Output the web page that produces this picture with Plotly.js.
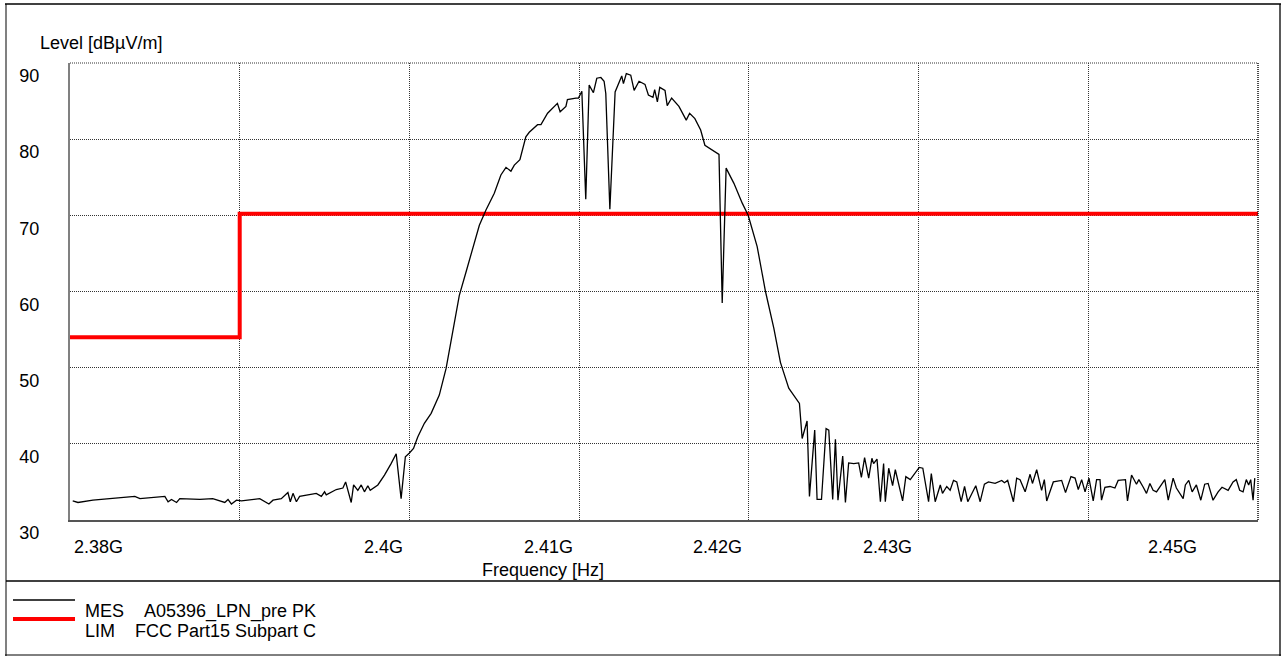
<!DOCTYPE html>
<html><head><meta charset="utf-8">
<script src="https://cdn.plot.ly/plotly-3.0.1.min.js"></script>
<style>html,body{margin:0;padding:0;background:#fff;overflow:hidden;} #chart{width:1286px;height:657px;}</style>
</head><body><div id="chart"></div>
<script>
// ---- data (frequency in MHz, level in dBµV/m) ----
const mesFreqMHz = [
  2380.16,2380.47,2381.35,2382.53,2383.82,2384.12,2385.29,2385.59,2385.78,2385.98,
  2386.28,2386.47,2387.65,2388.41,2389.12,2389.31,2389.51,2389.81,2390.10,2391.18,
  2391.72,2391.96,2392.45,2392.84,2392.98,2393.14,2393.34,2393.53,2394.51,2394.81,
  2395.00,2395.10,2395.69,2396.08,2396.24,2396.57,2396.71,2396.96,
  2397.16,2397.35,2397.55,2397.69,2398.14,2398.53,2398.92,2399.22,2399.51,2399.76,
  2400.00,2400.24,2400.49,2400.88,2401.28,2401.76,2402.16,2402.55,2402.94,2403.34,
  2403.72,2404.12,2404.51,2405.00,2405.39,2405.69,2405.98,2406.18,2406.51,2406.86,
  2407.06,2407.55,2407.75,2408.14,2408.72,2408.88,2409.22,2409.31,2409.81,2409.96,
  2410.16,2410.39,2410.59,2410.84,2411.04,2411.28,2411.47,2411.57,2411.81,2412.12,
  2412.51,2412.61,2412.78,2413.04,2413.24,2413.53,2413.88,2414.08,2414.35,2414.45,
  2414.61,2414.75,2415.06,2415.19,2415.45,2415.88,2416.31,2416.51,2416.82,2417.16,
  2417.41,2418.24,2418.43,2418.66,2419.12,2419.61,2419.96,2420.49,2420.98,2421.47,
  2421.86,2422.35,2422.98,2423.14,2423.43,2423.57,2423.88,2424.02,2424.28,2424.55,
  2424.71,2424.94,2425.10,2425.25,2425.53,2425.69,2425.88,2426.18,2426.47,2426.63,
  2426.82,2427.06,2427.25,2427.35,2427.55,2427.75,2427.94,2428.04,
  2428.24,2428.47,2428.63,2429.06,2429.25,2429.51,2430.04,2430.25,2430.59,2430.75,
  2430.98,2431.28,2431.41,2431.66,2431.86,2432.06,2432.25,2432.51,2432.71,2432.90,
  2433.37,2433.63,2433.88,2434.12,2434.51,2434.90,2435.06,2435.25,2435.59,2435.78,
  2435.98,2436.28,2436.57,2436.71,2436.96,2437.25,2437.41,2437.55,2437.94,2438.43,
  2438.66,
  2438.98,2439.22,2439.41,2439.61,2439.81,2440.04,2440.29,2440.49,2440.69,2440.78,
  2440.98,2441.28,2441.57,2441.76,2442.19,2442.31,2442.55,2442.84,2442.98,2443.24,
  2443.43,2443.63,2443.82,2444.02,2444.28,2444.51,2444.71,2445.00,2445.19,2445.39,
  2445.59,2445.72,2445.92,2446.12,2446.37,2446.63,2446.86,2447.06,2447.35,2447.65,
  2447.88,2448.24,2448.53,2448.72,2448.92,2449.12,2449.31,2449.45,2449.57,2449.71,
  2449.81
];
const mesLevel = [
  32.5,32.3,32.6,32.8,33.1,32.8,33.1,33.1,32.4,32.7,
  32.3,32.8,32.7,32.8,32.3,32.7,32.1,32.6,32.5,32.8,
  32.1,32.6,32.8,33.6,32.4,33.5,32.4,33.1,33.5,33.1,
  33.7,33.3,34.0,34.2,35.0,32.3,34.6,33.9,
  34.6,33.7,34.5,33.9,34.6,35.9,37.4,38.7,32.8,38.3,
  38.8,39.4,40.9,42.7,44.0,46.4,49.9,54.5,59.5,62.6,
  65.7,68.7,70.7,72.9,75.3,76.3,75.8,76.6,77.3,80.3,
  80.9,81.9,81.9,83.4,84.7,83.6,84.3,85.2,85.4,85.4,
  86.3,72.1,87.1,86.1,88.0,88.1,87.6,86.0,70.8,86.2,
  88.3,87.3,88.6,88.4,86.4,87.6,87.2,85.8,85.5,86.5,
  84.9,86.8,86.4,84.4,85.4,84.3,82.5,83.4,82.7,81.2,
  79.2,78.0,58.5,76.2,74.2,71.6,70.0,65.9,60.0,55.2,
  50.7,47.3,45.3,40.7,43.0,33.1,41.8,32.7,32.7,42.0,
  41.8,32.7,40.6,32.6,38.4,32.3,37.5,37.4,37.5,35.6,
  38.2,35.5,38.1,37.4,38.0,32.4,37.4,32.4,
  36.8,34.5,36.6,32.5,35.7,35.3,36.9,36.8,32.4,36.1,
  32.4,34.6,33.5,34.4,33.9,35.2,35.0,32.4,34.4,32.4,
  34.5,32.4,34.7,35.0,34.8,35.2,34.9,35.2,32.4,35.5,
  35.3,33.7,36.0,34.8,36.6,33.9,35.3,32.5,35.0,35.2,
  33.6,
  35.7,35.5,34.0,35.3,33.7,35.5,32.5,35.3,35.3,32.6,
  34.3,34.4,34.2,35.2,35.3,32.5,35.9,34.7,35.3,34.3,
  33.5,34.8,33.9,33.7,34.6,35.3,32.6,35.5,34.2,33.5,
  32.8,34.6,35.2,33.7,34.6,32.6,34.7,34.8,32.6,33.7,
  34.3,33.9,35.0,35.3,33.9,33.7,35.3,34.6,35.3,32.6,
  35.5
];
const limFreqMHz = [2380, 2390, 2390, 2450];
const limLevel = [54, 54, 70.2, 70.2];
const yTickVals = [30, 40, 50, 60, 70, 80, 90];
const xLabelFreqMHz = [2380, 2400, 2410, 2420, 2430, 2450];
const xLabelText = ['2.38G', '2.4G', '2.41G', '2.42G', '2.43G', '2.45G'];
const legendNames = ['MES', 'LIM'];
const legendDescs = ['A05396_LPN_pre PK', 'FCC Part15 Subpart C'];
const yAxisTitle = 'Level [dBµV/m]';
const xAxisTitle = 'Frequency [Hz]';

// ---- layout helpers (pixel -> paper) ----
const W = 1286, H = 657, ML = 70, MR = 28, MT = 63, MB = 137;
const PW = W - ML - MR, PH = H - MT - MB;
const px = x => (x - ML) / PW;
const py = y => (H - MB - y) / PH;
const FONT = 'Arial, "Liberation Sans", sans-serif';

const traces = [
  {x: limFreqMHz, y: limLevel, type: 'scatter', mode: 'lines',
   line: {color: '#ff0000', width: 4}, hoverinfo: 'skip'},
  {x: mesFreqMHz, y: mesLevel, type: 'scatter', mode: 'lines',
   line: {color: '#000000', width: 1.3}, hoverinfo: 'skip'}
];

const xShift = [2, -4, -4, -5, -5, -59];
const annotations = [];
xLabelFreqMHz.forEach((f, i) => annotations.push({
  x: f, xref: 'x', y: 0, yref: 'paper', yanchor: 'middle', yshift: -27,
  xanchor: i === 0 ? 'left' : 'right', xshift: xShift[i],
  text: xLabelText[i], showarrow: false, font: {family: FONT, size: 18, color: '#000'}
}));
annotations.push({x: px(543), xref: 'paper', y: py(570), yref: 'paper', xanchor: 'center', yanchor: 'middle',
  text: xAxisTitle, showarrow: false, font: {family: FONT, size: 18, color: '#000'}});
annotations.push({x: px(38), xref: 'paper', y: py(43), yref: 'paper', xanchor: 'left', yanchor: 'middle',
  text: yAxisTitle, showarrow: false, font: {family: FONT, size: 18, color: '#000'}});
const legY = [611, 631], descX = [142, 133];
legendNames.forEach((n, i) => {
  annotations.push({x: px(83), xref: 'paper', y: py(legY[i]), yref: 'paper', xanchor: 'left', yanchor: 'middle',
    text: n, showarrow: false, font: {family: FONT, size: 18, color: '#000'}});
  annotations.push({x: px(descX[i]), xref: 'paper', y: py(legY[i]), yref: 'paper', xanchor: 'left', yanchor: 'middle',
    text: legendDescs[i], showarrow: false, font: {family: FONT, size: 18, color: '#000'}});
});

const pl = (x0, y0, x1, y1, color, width, dash) => ({type: 'line', xref: 'paper', yref: 'paper',
  x0: px(x0), y0: py(y0), x1: px(x1), y1: py(y1), line: {color: color, width: width, dash: dash || 'solid'}});
const shapes = [
  pl(6, 4, 6, 656, '#808080', 2),
  pl(5, 4, 1281, 4, '#000', 1.3),
  pl(1280, 4, 1280, 656, '#000', 1.3),
  pl(5, 655, 1281, 655, '#000', 1),
  pl(6, 581, 1280, 581, '#000', 1.3),
  pl(13, 600, 75, 600, '#000', 1.3),
  pl(13, 619, 75, 619, '#ff0000', 4),
  // dotted top and right frame edges of the plot area
  {type: 'line', xref: 'paper', yref: 'paper', x0: 0, x1: 1, y0: 1, y1: 1, line: {color: '#333', width: 1, dash: '1px,1px'}},
  {type: 'line', xref: 'paper', yref: 'paper', x0: 1, x1: 1, y0: 0, y1: 1, line: {color: '#111', width: 1.5, dash: '1px,1px'}}
];

const layout = {
  width: W, height: H,
  margin: {l: ML, r: MR, t: MT, b: MB, pad: 0},
  paper_bgcolor: '#fff', plot_bgcolor: '#fff',
  showlegend: false,
  font: {family: FONT, size: 18, color: '#000'},
  xaxis: {range: [2380, 2450], tick0: 2380, dtick: 10, showticklabels: false, ticks: '',
    showgrid: true, gridcolor: '#333', griddash: '1px,1px', gridwidth: 1,
    showline: true, linecolor: '#555', linewidth: 2, zeroline: false, fixedrange: true},
  yaxis: {range: [30, 90], tickvals: yTickVals, ticktext: yTickVals.map(String), ticks: '',
    ticklabelshift: 13, ticklabelstandoff: 25,
    tickfont: {family: FONT, size: 18, color: '#000'},
    showgrid: true, gridcolor: '#333', griddash: '1px,1px', gridwidth: 1,
    showline: true, linecolor: '#808080', linewidth: 2, zeroline: false, fixedrange: true},
  annotations: annotations,
  shapes: shapes
};

Plotly.newPlot('chart', traces, layout, {displayModeBar: false, staticPlot: true});
</script>
</body></html>
